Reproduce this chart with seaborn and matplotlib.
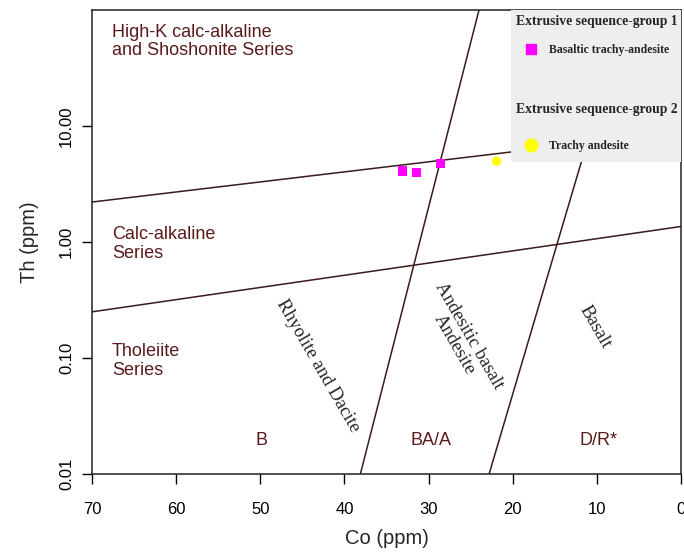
import numpy as np
import pandas as pd
import matplotlib
matplotlib.use("Agg")
import matplotlib.pyplot as plt
from matplotlib.lines import Line2D
from matplotlib.patches import Rectangle
import seaborn as sns

# samples (Co, Th in ppm)
co_group1 = [33.1, 31.4, 28.6]
th_group1 = [4.09, 3.96, 4.76]
co_group2 = [21.9]
th_group2 = [4.97]
rock_group1 = "Basaltic trachy-andesite"
rock_group2 = "Trachy andesite"

# field boundaries, each as (Co pair, Th pair)
hk_co = [70, 0]
hk_th = [2.21, 8.93]
ca_co = [70, 0]
ca_th = [0.25, 1.36]
b_co = [38.1, 24.0]
b_th = [0.01, 100]
d_co = [22.8, 6.5]
d_th = [0.01, 100]

yticks = [0.01, 0.1, 1, 10]
ytick_labels = ["0.01", "0.10", "1.00", "10.00"]
xticks = [70, 60, 50, 40, 30, 20, 10, 0]

sns.set_style("ticks")
plt.rcParams['font.family'] = ['Liberation Sans', 'DejaVu Sans']

line_col = "#3b1a1a"
txt_col = "#5a1a1a"

fig = plt.figure(figsize=(6.84, 5.54), dpi=100)
ax = fig.add_axes([0.1345, 0.1444, 0.8610, 0.8376])

for xs, ys in [(hk_co, hk_th), (ca_co, ca_th), (b_co, b_th), (d_co, d_th)]:
    sns.lineplot(x=xs, y=ys, ax=ax, color=line_col, lw=1.1, sort=False, zorder=2)

df = pd.DataFrame({
    "Co": co_group1 + co_group2,
    "Th": th_group1 + th_group2,
    "rock": [rock_group1] * len(co_group1) + [rock_group2] * len(co_group2),
})
sns.scatterplot(data=df, x="Co", y="Th", hue="rock", style="rock",
                palette={rock_group1: "#ff00ff", rock_group2: "#ffff00"},
                markers={rock_group1: "s", rock_group2: "o"},
                s=45, edgecolor="none", legend=False, ax=ax, zorder=3)

ax.set_yscale("log")
ax.set_ylim(0.01, 100)
ax.set_xlim(70, 0)
ax.set_yticks(yticks)
ax.set_yticklabels(ytick_labels, rotation=90, va="center")
ax.yaxis.set_minor_locator(matplotlib.ticker.NullLocator())
ax.set_xticks(xticks)
ax.tick_params(labelsize=12, length=7, width=1, colors="black")
ax.tick_params(axis="x", pad=13)
ax.tick_params(axis="y", pad=6)
for s in ax.spines.values():
    s.set_linewidth(1.1)
    s.set_color("#222222")
ax.set_xlabel("Co (ppm)", fontsize=14.5, labelpad=9)
ax.set_ylabel("Th (ppm)", fontsize=14.5, labelpad=14)

fs = 13
ax.text(0.034, 0.970, "High-K calc-alkaline\nand Shoshonite Series", transform=ax.transAxes,
        ha="left", va="top", fontsize=fs, color=txt_col, linespacing=1.05)
ax.text(0.034, 0.534, "Calc-alkaline\nSeries", transform=ax.transAxes,
        ha="left", va="top", fontsize=fs, color=txt_col, linespacing=1.15)
ax.text(0.034, 0.282, "Tholeiite\nSeries", transform=ax.transAxes,
        ha="left", va="top", fontsize=fs, color=txt_col, linespacing=1.15)
for x, lab in [(0.288, "B"), (0.576, "BA/A"), (0.861, "D/R*")]:
    ax.text(x, 0.073, lab, transform=ax.transAxes, ha="center", va="center",
            fontsize=fs, color=txt_col)

serif = ['Liberation Serif', 'DejaVu Serif']
ax.text(0.383, 0.233, "Rhyolite and Dacite", transform=ax.transAxes, rotation=-60,
        ha="center", va="center", fontsize=13.5, family=serif, rotation_mode="anchor")
ax.text(0.627, 0.289, "Andesitic basalt\nAndesite", transform=ax.transAxes, rotation=-60,
        ha="center", va="center", fontsize=13.5, family=serif, rotation_mode="anchor",
        linespacing=1.0)
ax.text(0.854, 0.317, "Basalt", transform=ax.transAxes, rotation=-60,
        ha="center", va="center", fontsize=13.5, family=serif, rotation_mode="anchor")

# grey legend panel
ax.add_patch(Rectangle((0.712, 0.672), 0.288, 0.328, transform=ax.transAxes,
                       facecolor="#eeeeee", edgecolor="none", zorder=4))

leg_kw = dict(loc="upper left", frameon=False, borderaxespad=0, borderpad=0.2,
              handletextpad=0.2, handlelength=2.6, alignment="left",
              prop={"family": serif, "weight": "bold", "size": 8.5},
              title_fontproperties={"family": serif, "weight": "bold", "size": 9.8})
h1 = [Line2D([], [], marker="s", color="#ff00ff", ls="none", markersize=7)]
h2 = [Line2D([], [], marker="o", color="#ffff00", ls="none", markersize=9)]
leg1 = ax.legend(h1, [rock_group1], title="Extrusive sequence-group 1",
                 bbox_to_anchor=(0.716, 0.995), labelspacing=1.4, **leg_kw)
leg1.set_zorder(5)
ax.add_artist(leg1)
leg2 = ax.legend(h2, [rock_group2], title="Extrusive sequence-group 2",
                 bbox_to_anchor=(0.716, 0.804), labelspacing=2.0, **leg_kw)
leg2.set_zorder(5)

fig.savefig("out.png", dpi=100)
